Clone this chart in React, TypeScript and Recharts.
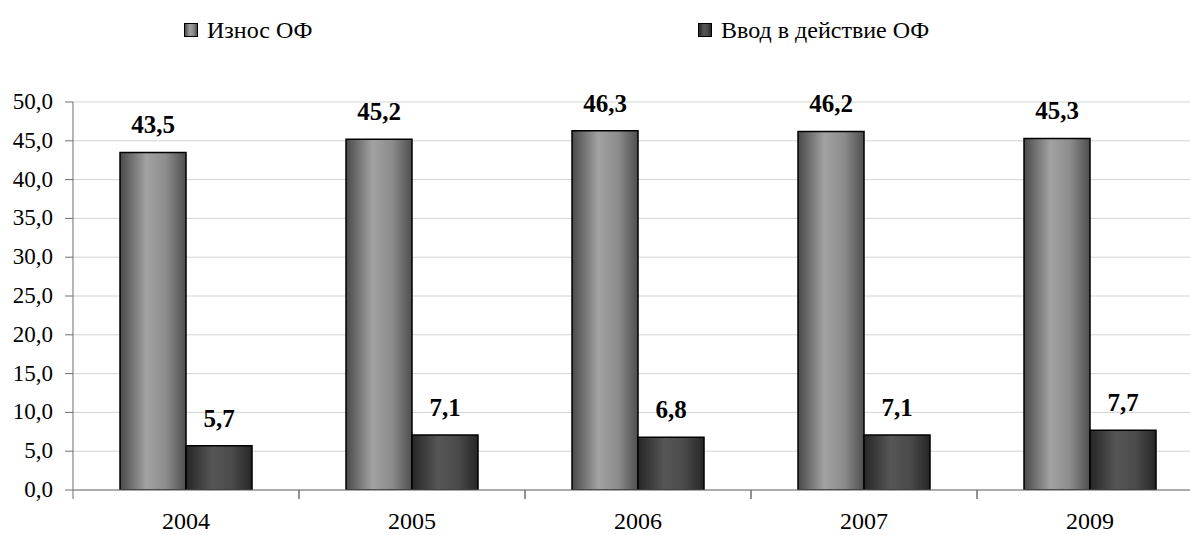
import { Bar, BarChart, CartesianGrid, LabelList, Legend, XAxis, YAxis } from 'recharts';

const YEARS = ['2004', '2005', '2006', '2007', '2009'];
const WEAR = [43.5, 45.2, 46.3, 46.2, 45.3];
const COMMISSIONED = [5.7, 7.1, 6.8, 7.1, 7.7];
const Y_TICKS = [0, 5, 10, 15, 20, 25, 30, 35, 40, 45, 50];

const SERIES = [
  { key: 'wear', name: 'Износ ОФ', grad: 'gradWear', css: 'linear-gradient(90deg,#4a4a4a,#a2a2a2 40%,#8a8a8a 70%,#4e4e4e)' },
  { key: 'commissioned', name: 'Ввод в действие ОФ', grad: 'gradComm', css: 'linear-gradient(90deg,#262626,#555 40%,#4a4a4a 70%,#262626)' },
];

const data = YEARS.map((year, i) => ({ year, wear: WEAR[i], commissioned: COMMISSIONED[i] }));

const SERIF = 'Liberation Serif';
const fmt = (v: number) => v.toFixed(1).replace('.', ',');

const LEGEND_LEFT = [184, 698];

function LegendContent() {
  return (
    <div style={{ position: 'relative', height: 50 }}>
      {SERIES.map((s, i) => (
        <div
          key={s.key}
          style={{ position: 'absolute', left: LEGEND_LEFT[i], top: 17, display: 'flex', alignItems: 'center', whiteSpace: 'nowrap' }}
        >
          <span
            style={{
              display: 'inline-block',
              width: 12,
              height: 12,
              border: '1.5px solid #000',
              background: s.css,
              marginRight: 9,
            }}
          />
          <span style={{ fontFamily: SERIF, fontSize: 24, color: '#000', lineHeight: '26px' }}>{s.name}</span>
        </div>
      ))}
    </div>
  );
}

function XTick(props: any) {
  const { x, y, payload } = props;
  const half = 113;
  return (
    <g>
      <line x1={x - half} x2={x - half} y1={y - 8} y2={y + 1} stroke="#6e6e6e" />
      <line x1={x + half} x2={x + half} y1={y - 8} y2={y + 1} stroke="#6e6e6e" />
      <text x={x} y={y + 31} textAnchor="middle" fontFamily={SERIF} fontSize={24} fill="#000">
        {payload.value}
      </text>
    </g>
  );
}

function YTick(props: any) {
  const { x, y, payload } = props;
  return (
    <text x={x} y={y} dy={7} textAnchor="end" fontFamily={SERIF} fontSize={23} fill="#000">
      {fmt(payload.value)}
    </text>
  );
}

function ValueLabel(props: any) {
  const { x, y, width, value } = props;
  return (
    <text x={x + width / 2} y={y - 19} textAnchor="middle" fontFamily={SERIF} fontWeight="bold" fontSize={25} fill="#000">
      {fmt(Number(value))}
    </text>
  );
}

export default function App() {
  return (
    <div style={{ position: 'absolute', left: 0, top: 0, width: 1190, height: 535, overflow: 'hidden', background: '#fff' }}>
      <BarChart
        width={1210}
        height={535}
        data={data}
        margin={{ top: 52, right: 7, bottom: 0, left: 0 }}
        barCategoryGap="20.8%"
        barGap={0}
      >
        <defs>
          <linearGradient id="gradWear" x1="0" y1="0" x2="1" y2="0">
            <stop offset="0%" stopColor="#4a4a4a" />
            <stop offset="40%" stopColor="#a2a2a2" />
            <stop offset="70%" stopColor="#8c8c8c" />
            <stop offset="100%" stopColor="#4e4e4e" />
          </linearGradient>
          <linearGradient id="gradComm" x1="0" y1="0" x2="1" y2="0">
            <stop offset="0%" stopColor="#262626" />
            <stop offset="40%" stopColor="#565656" />
            <stop offset="70%" stopColor="#4a4a4a" />
            <stop offset="100%" stopColor="#262626" />
          </linearGradient>
        </defs>
        <CartesianGrid vertical={false} stroke="#d4d4d4" />
        <Legend
          verticalAlign="top"
          content={<LegendContent />}
          wrapperStyle={{ top: 0, left: 0, width: 1190, height: 50 }}
        />
        <XAxis
          dataKey="year"
          height={45}
          stroke="#6e6e6e"
          tickLine={false}
          tick={<XTick />}
          interval={0}
        />
        <YAxis
          width={73}
          domain={[0, 50]}
          ticks={Y_TICKS}
          stroke="#6e6e6e"
          tickSize={8}
          tickMargin={12}
          tick={<YTick />}
          allowDataOverflow
        />
        {SERIES.map((s) => (
          <Bar
            key={s.key}
            dataKey={s.key}
            name={s.name}
            fill={`url(#${s.grad})`}
            stroke="#000"
            strokeWidth={1.5}
            isAnimationActive={false}
          >
            <LabelList dataKey={s.key} content={<ValueLabel />} />
          </Bar>
        ))}
      </BarChart>
    </div>
  );
}
